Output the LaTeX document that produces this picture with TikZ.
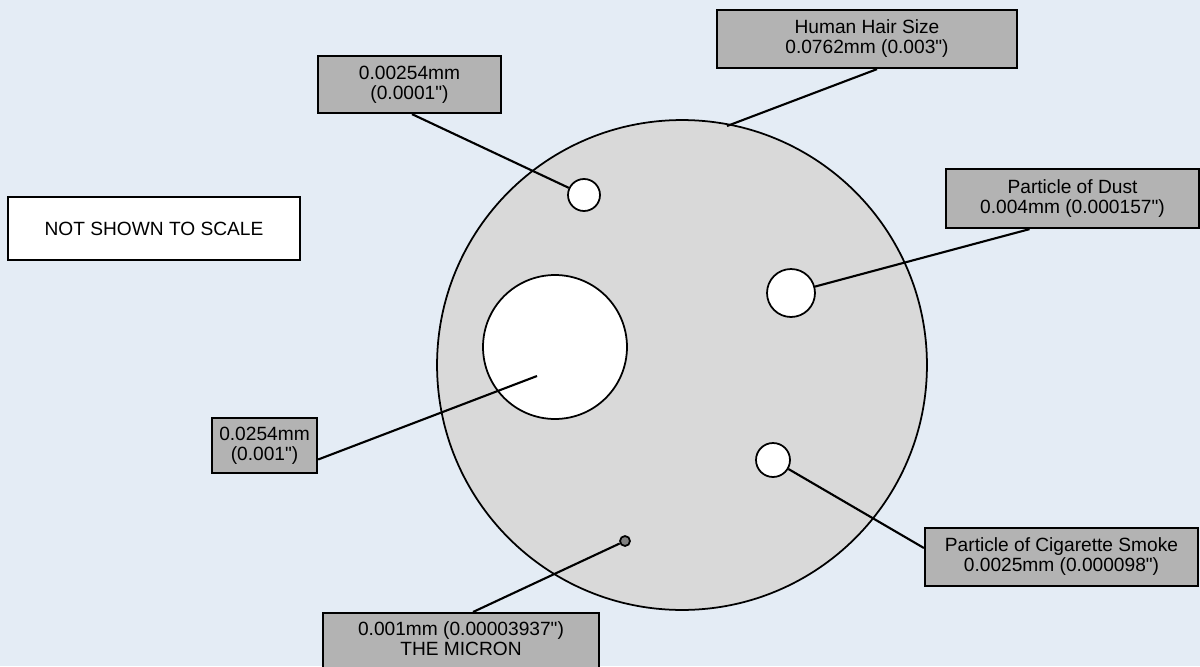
\documentclass[tikz,border=0pt]{standalone}
\usepackage{fontspec}
\setmainfont{Liberation Sans}
\usepackage{xcolor}
\usepackage{tikz}
\definecolor{bgblue}{HTML}{E4ECF5}
\definecolor{hairgray}{HTML}{D9D9D9}
\definecolor{tagray}{HTML}{B3B3B3}
\newcommand{\inch}{\XeTeXglyph\XeTeXcharglyph"22\relax}
\begin{document}
\begin{tikzpicture}[
        x=0.02cm, y=-0.02cm,
        tag/.style={draw, line width=1.3pt, fill=tagray, font=\fontsize{10.9}{11.4}\selectfont,
                    align=center, inner sep=0pt, minimum width=#1},
        particle/.style={circle, draw, line width=1pt, fill=white, inner sep=0pt, minimum size=#1},
        leader/.style={line width=1.2pt},
    ]
        \fill[bgblue] (0,0) rectangle (1200,666);
        \clip (0,0) rectangle (1200,666);

        %--- Hair ---
        \node[circle, draw, line width=1pt, fill=hairgray, minimum size=9.8cm, inner sep=0pt]
              (hair) at (682,365) {};

        %--- Particles ---
        \node[particle=0.64cm]  (tiny)  at (584,195) {};
        \node[particle=0.96cm]  (dust)  at (791,293) {};
        \node[particle=2.88cm]  (big)   at (555,347) {};
        \node[particle=0.68cm]  (smoke) at (773,460) {};
        \node[circle, draw, line width=1pt, fill=gray, inner sep=0pt, minimum size=0.2cm]
              (micron) at (625,541) {};

        %--- Labels ---
        \node[tag=6cm, minimum height=1.16cm]    (hairlbl)   at (867,39)    {Human Hair Size\\0.0762mm (0.003\inch)};
        \node[tag=3.66cm, minimum height=1.14cm] (tinylbl)   at (409.5,84.5) {0.00254mm\\(0.0001\inch)};
        \node[tag=5.06cm, minimum height=1.18cm] (dustlbl)   at (1072.5,198.5) {Particle of Dust\\0.004mm (0.000157\inch)};
        \node[tag=2.1cm, minimum height=1.1cm]   (biglbl)    at (264.5,445.5) {0.0254mm\\(0.001\inch)};
        \node[tag=5.46cm, minimum height=1.16cm] (smokelbl)  at (1061.5,557) {Particle of Cigarette Smoke\\0.0025mm (0.000098\inch)};
        \node[tag=5.52cm, anchor=north, inner ysep=0.16cm] (micronlbl) at (461,612) {0.001mm (0.00003937\inch)\\THE MICRON\\ \mbox{}};
        \node[draw, line width=1.3pt, fill=white, minimum width=5.84cm, minimum height=1.26cm,
              font=\fontsize{10.9}{11.4}\selectfont] (scalelbl) at (154,228.5) {NOT SHOWN TO SCALE};

        %--- Leaders ---
        \coordinate (hairpt) at (727,126);
        \coordinate (bigpt)  at (537,376);
        \draw[leader] (hairpt) -- ([xshift=0.2cm]hairlbl.south);
        \draw[leader] ([xshift=0.05cm]tinylbl.south) -- (tiny);
        \draw[leader] ([xshift=-0.86cm]dustlbl.south) -- (dust);
        \draw[leader] ([yshift=-0.28cm]biglbl.east) -- (bigpt);
        \draw[leader] ([yshift=0.18cm]smokelbl.west) -- (smoke);
        \draw[leader] ([xshift=0.24cm]micronlbl.north) -- (micron);
    \end{tikzpicture}
\end{document}
